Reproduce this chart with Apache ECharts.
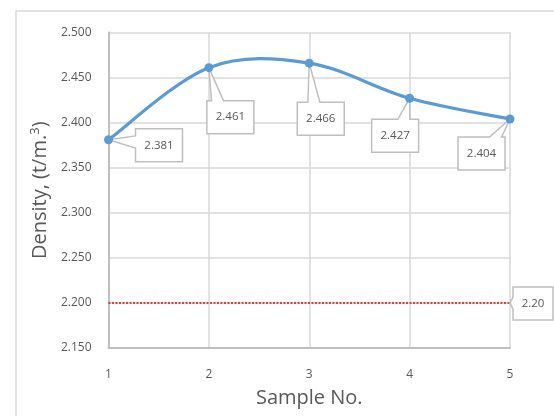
<!DOCTYPE html>
<html>
<head>
<meta charset="utf-8">
<script src="https://cdn.jsdelivr.net/npm/echarts@6/dist/echarts.min.js"></script>
<style>
html,body{margin:0;padding:0;background:#fff;}
#chart{width:554px;height:416px;}
</style>
</head>
<body>
<div id="chart"></div>
<script>
// ---- data ----
var samples = ['1', '2', '3', '4', '5'];
var density = [2.381, 2.461, 2.466, 2.427, 2.404];
var limitValue = 2.20;
var limitLine = [2.20, 2.20, 2.20, 2.20, 2.20];
var densityLabels = ['2.381', '2.461', '2.466', '2.427', '2.404'];
var limitLabel = '2.20';
var yTicks = { min: 2.15, max: 2.5, step: 0.05 };

// ---- layout of callouts (box top-left offset from point, px) ----
var calloutOffsets = [[27, -11], [-2, 33], [-12, 39], [-38, 21], [-52, 18]];
var limitOffset = [3, -16];

var chart = echarts.init(document.getElementById('chart'));
var textColor = '#595959';
var font = "'Open Sans', sans-serif";
var lineColor = '#5b9bd5';

function calloutShape(px, py, L, T, w, h) {
  var R = L + w, B = T + h;
  var cx = L + w / 2, cy = T + h / 2;
  var hw = 6;
  var pts;
  if (py < T || py > B) {
    var proj = Math.min(Math.max(px, L), R);
    var c = proj + (cx - proj) * 0.4;
    var b1 = Math.max(L, c - hw), b2 = Math.min(R, c + hw);
    if (py < T) {
      pts = [[L, T], [b1, T], [px, py], [b2, T], [R, T], [R, B], [L, B]];
    } else {
      pts = [[L, T], [R, T], [R, B], [b2, B], [px, py], [b1, B], [L, B]];
    }
  } else {
    var projY = Math.min(Math.max(py, T), B);
    var cc = projY + (cy - projY) * 0.4;
    var a1 = Math.max(T, cc - hw), a2 = Math.min(B, cc + hw);
    if (px < L) {
      pts = [[L, T], [R, T], [R, B], [L, B], [L, a2], [px, py], [L, a1]];
    } else {
      pts = [[L, T], [R, T], [R, a1], [px, py], [R, a2], [R, B], [L, B]];
    }
  }
  return pts;
}

function makeCalloutRender(labels, offsets, boxW, boxH) {
  return function (params, api) {
    var i = params.dataIndex;
    var p = api.coord([api.value(0), api.value(1)]);
    var off = offsets[i];
    var L = p[0] + off[0], T = p[1] + off[1];
    var pts = calloutShape(p[0], p[1], L, T, boxW, boxH);
    return {
      type: 'group',
      children: [
        {
          type: 'polygon',
          shape: { points: pts },
          style: { fill: '#ffffff', stroke: '#bfbfbf', lineWidth: 1.5 }
        },
        {
          type: 'text',
          style: {
            x: L + boxW / 2, y: T + boxH / 2,
            text: labels[i],
            fill: textColor,
            font: '11.5px ' + font,
            align: 'center', verticalAlign: 'middle'
          }
        }
      ]
    };
  };
}

// smooth curve segment (Catmull-Rom style bezier) drawn from data coords
function renderSmoothSegment(params, api) {
  var i = params.dataIndex;
  var n = density.length;
  if (i >= n - 1) return null;
  function pt(k) {
    k = Math.max(0, Math.min(n - 1, k));
    return api.coord([k, density[k]]);
  }
  var p0 = pt(i - 1), p1 = pt(i), p2 = pt(i + 1), p3 = pt(i + 2);
  var t = 1 / 6;
  return {
    type: 'bezierCurve',
    shape: {
      x1: p1[0], y1: p1[1],
      cpx1: p1[0] + (p2[0] - p0[0]) * t, cpy1: p1[1] + (p2[1] - p0[1]) * t,
      cpx2: p2[0] - (p3[0] - p1[0]) * t, cpy2: p2[1] - (p3[1] - p1[1]) * t,
      x2: p2[0], y2: p2[1]
    },
    style: { stroke: lineColor, lineWidth: 3.2, fill: 'none', lineCap: 'round' }
  };
}

var calloutData = density.map(function (v, i) { return [i, v]; });
var limitCalloutData = [[samples.length - 1, limitValue]];

var option = {
  animation: false,
  backgroundColor: '#ffffff',
  graphic: [{
    type: 'rect',
    shape: { x: 16, y: 11, width: 700, height: 600 },
    style: { fill: 'none', stroke: '#d9d9d9', lineWidth: 1.5 },
    z: -10
  }],
  grid: { left: 108.5, right: 44, top: 32.5, bottom: 68, outerBoundsMode: 'none', containLabel: false },
  xAxis: {
    type: 'category',
    data: samples,
    boundaryGap: false,
    name: 'Sample No.',
    nameLocation: 'middle',
    nameGap: 40,
    nameTextStyle: { color: textColor, fontSize: 20, fontFamily: font },
    axisLine: { lineStyle: { color: '#bfbfbf', width: 2 } },
    axisTick: { show: false },
    axisLabel: { color: textColor, fontSize: 12, fontFamily: font, margin: 21 },
    splitLine: { show: true, lineStyle: { color: '#d9d9d9', width: 1.5 } }
  },
  yAxis: {
    type: 'value',
    min: yTicks.min,
    max: yTicks.max,
    interval: yTicks.step,
    name: 'Density, (t/m.{sup|3})',
    nameLocation: 'middle',
    nameGap: 57,
    nameRotate: 90,
    nameTextStyle: {
      color: textColor, fontSize: 20, fontFamily: font,
      rich: { sup: { fontSize: 13, color: textColor, fontFamily: font, verticalAlign: 'top', padding: [0, 0, 10, 0] } }
    },
    axisLine: { show: true, lineStyle: { color: '#bfbfbf', width: 2 } },
    axisTick: { show: false },
    axisLabel: {
      color: textColor, fontSize: 12, fontFamily: font, margin: 17,
      formatter: function (v) { return v.toFixed(3); }
    },
    splitLine: { show: true, lineStyle: { color: '#d9d9d9', width: 1.5 } }
  },
  series: [
    {
      type: 'line',
      data: limitLine,
      symbol: 'none',
      lineStyle: { color: '#ff0000', width: 1.5, type: [2, 1.5] },
      z: 2
    },
    {
      type: 'custom',
      data: calloutData,
      renderItem: makeCalloutRender(densityLabels, calloutOffsets, 47, 33),
      z: 3
    },
    {
      type: 'custom',
      data: limitCalloutData,
      renderItem: makeCalloutRender([limitLabel], [limitOffset], 40, 33),
      z: 3
    },
    {
      type: 'custom',
      data: calloutData,
      renderItem: renderSmoothSegment,
      z: 4
    },
    {
      type: 'scatter',
      data: calloutData,
      symbol: 'circle',
      symbolSize: 9,
      itemStyle: { color: lineColor, opacity: 1 },
      z: 5
    }
  ]
};
chart.setOption(option);
</script>
</body>
</html>
